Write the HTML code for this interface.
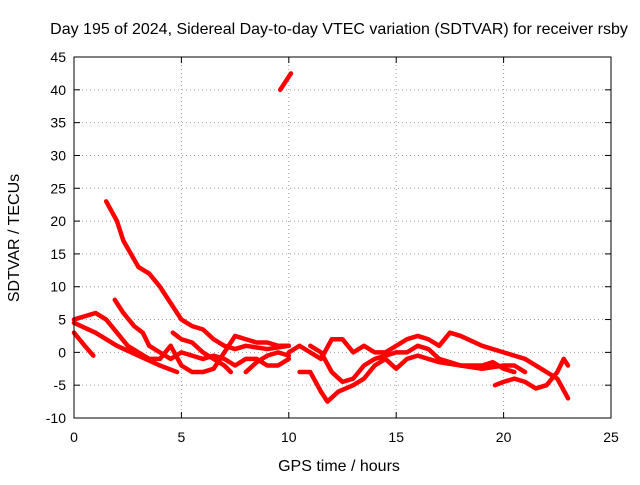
<!DOCTYPE html>
<html><head><meta charset="utf-8"><style>
body{margin:0;background:#fff}
svg{font-family:"Liberation Sans",sans-serif;font-size:14px}
.big{font-size:16px}
</style></head><body>
<svg id="chart" width="640" height="480">
<rect width="640" height="480" fill="#fff"/>
<text class="big" x="339" y="34" text-anchor="middle">Day 195 of 2024, Sidereal Day-to-day VTEC variation (SDTVAR) for receiver rsby</text>
<text class="big" x="339" y="471" text-anchor="middle">GPS time / hours</text>
<text class="big" transform="translate(19,238) rotate(-90)" text-anchor="middle">SDTVAR / TECUs</text>
<g id="grid"></g><g id="axes"></g><g id="series"></g>
<rect x="74" y="57" width="537" height="361" fill="none" stroke="#000"/>
</svg>
<script>
const xTicks=[0,5,10,15,20,25];
const yTicks=[-10,-5,0,5,10,15,20,25,30,35,40,45];
const track1=[[1.5,23],[2,20],[2.3,17],[3,13],[3.5,12],[4,10],[4.5,7.5],[5,5],[5.5,4],[6,3.5],[6.5,2],[7,1],[7.5,0.5],[8,1],[9,0.5],[10,1]];
const track2=[[9.6,40],[10.1,42.5]];
const track3=[[0,5],[0.5,5.5],[1,6],[1.5,5],[2,3],[2.5,1],[3,0],[3.5,-1],[4,-1],[4.5,1],[5,-2],[5.5,-3],[6,-3],[6.5,-2.5],[7,0],[7.5,2.5],[8,2],[8.5,1.5],[9,1.5],[9.5,1],[10,1]];
const track4=[[0,3],[0.5,1],[0.9,-0.5]];
const track5=[[0,4.5],[1,3],[2,1],[3,-0.5],[4,-2],[4.8,-3]];
const track6=[[1.9,8],[2.3,6],[2.8,4],[3.2,3],[3.5,1],[4,0],[4.5,-1],[5,0],[5.5,-0.5],[6,-1],[6.5,-0.5],[7,-1],[7.5,-2],[8,-1],[8.5,-1],[9,-2],[9.5,-2],[10,-1]];
const track7=[[4.6,3],[5,2],[5.5,1.5],[6,0],[6.5,-1],[7,-2],[7.3,-3]];
const track8=[[10,0],[10.5,1],[11,0],[11.5,-1],[12,2],[12.5,2],[13,0],[13.5,1],[14,0],[14.5,0],[15,1],[15.5,2],[16,2.5],[16.5,2],[17,1],[17.5,3],[18,2.5],[19,1],[20,0],[21,-1],[22,-3],[22.5,-4],[23,-7]];
const track9=[[10.5,-3],[11,-3],[11.5,-6],[11.8,-7.5],[12.3,-6],[13,-5],[13.5,-4],[14,-2],[14.5,-1],[15,-2.5],[15.5,-1],[16,-0.5],[16.5,-1],[17,-1.5],[18,-2],[19,-2.5],[20,-2],[20.5,-2],[21,-3]];
const track10=[[11,1],[11.5,0],[12,-3],[12.5,-4.5],[13,-4],[13.5,-2],[14,-1],[14.5,-0.5],[15,0],[15.5,0],[16,1],[16.5,0.5],[17,-1],[17.5,-1.5],[18,-2],[19,-2],[19.5,-1.5],[20,-2.5],[20.5,-3]];
const track11=[[19.6,-5],[20,-4.5],[20.5,-4],[21,-4.5],[21.5,-5.5],[22,-5],[22.5,-3],[22.8,-1],[23,-2]];
const track12=[[8,-3],[8.5,-1.5],[9,-0.5],[9.5,0],[10,-0.5]];
const tracks=[track1,track2,track3,track4,track5,track6,track7,track8,track9,track10,track11,track12];
const NS="http://www.w3.org/2000/svg";
const X0=74,X1=611,Y0=418,Y1=57;
function sx(v){return X0+(v-0)/(25-0)*(X1-X0);}
function sy(v){return Y0-(v+10)/(45+10)*(Y0-Y1);}
function mk(t,a,p){const e=document.createElementNS(NS,t);for(const k in a)e.setAttribute(k,a[k]);p.appendChild(e);return e;}
const grid=document.getElementById('grid'),axes=document.getElementById('axes'),ser=document.getElementById('series');
xTicks.forEach(v=>{
  const x=sx(v);
  if(v>0&&v<25){const g=mk('line',{x1:x,x2:x,y1:Y0,y2:Y1,stroke:'#a0a0a0','stroke-dasharray':'1,3'},grid);
  
  }
  mk('line',{x1:x,x2:x,y1:Y0,y2:Y0-6,stroke:'#000'},axes);
  mk('line',{x1:x,x2:x,y1:Y1,y2:Y1+6,stroke:'#000'},axes);
  const t=mk('text',{x:x,y:Y0+24,'text-anchor':'middle'},axes);t.textContent=v;
  
  
});
yTicks.forEach(v=>{
  const y=sy(v);
  if(v>-10&&v<45){const g=mk('line',{x1:X0,x2:X1,y1:y,y2:y,stroke:'#a0a0a0','stroke-dasharray':'1,3'},grid);
  
  }
  mk('line',{x1:X0,x2:X0+6,y1:y,y2:y,stroke:'#000'},axes);
  mk('line',{x1:X1,x2:X1-6,y1:y,y2:y,stroke:'#000'},axes);
  const t=mk('text',{x:X0-8,y:y+5,'text-anchor':'end'},axes);t.textContent=v;
  
  
});
tracks.forEach((tr,i)=>{
  const pl=mk('polyline',{points:tr.map(p=>sx(p[0])+','+sy(p[1])).join(' '),fill:'none',stroke:'#f00','stroke-width':4.5,'stroke-linejoin':'round','stroke-linecap':'round'},ser);
  
  
});
</script>
</body></html>
